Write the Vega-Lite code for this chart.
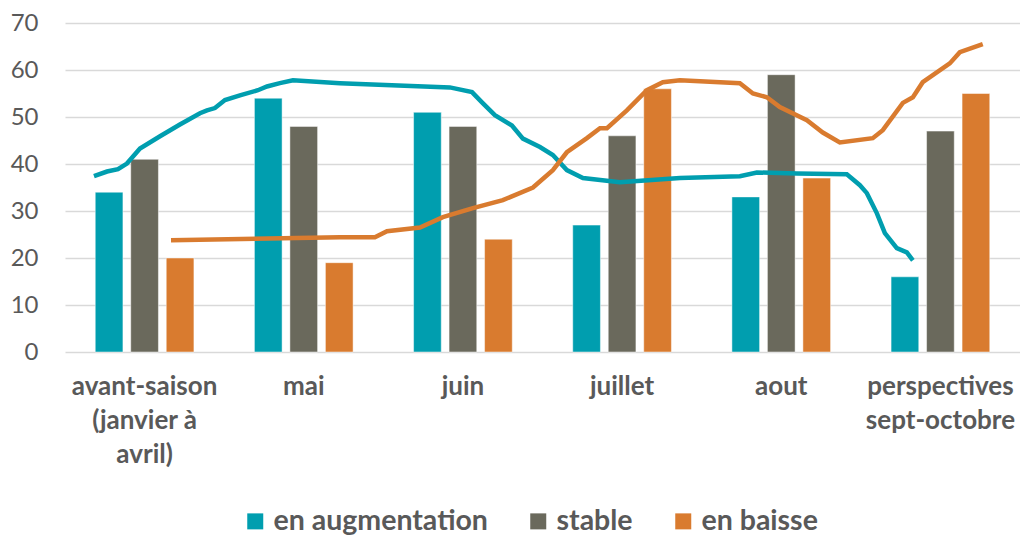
{
  "$schema": "https://vega.github.io/schema/vega-lite/v6.json",
  "width": 955,
  "height": 329,
  "autosize": "none",
  "padding": {"left": 65, "top": 23, "right": 0, "bottom": 184},
  "background": "white",
  "config": {
    "view": {"stroke": null},
    "font": "Lato",
    "axis": {"labelFont": "Lato", "labelColor": "#595959"}
  },
  "datasets": {
    "bars": [
      {"cat": "avant-saison (janvier à avril)", "series": "en augmentation", "value": 34},
      {"cat": "avant-saison (janvier à avril)", "series": "stable", "value": 41},
      {"cat": "avant-saison (janvier à avril)", "series": "en baisse", "value": 20},
      {"cat": "mai", "series": "en augmentation", "value": 54},
      {"cat": "mai", "series": "stable", "value": 48},
      {"cat": "mai", "series": "en baisse", "value": 19},
      {"cat": "juin", "series": "en augmentation", "value": 51},
      {"cat": "juin", "series": "stable", "value": 48},
      {"cat": "juin", "series": "en baisse", "value": 24},
      {"cat": "juillet", "series": "en augmentation", "value": 27},
      {"cat": "juillet", "series": "stable", "value": 46},
      {"cat": "juillet", "series": "en baisse", "value": 56},
      {"cat": "aout", "series": "en augmentation", "value": 33},
      {"cat": "aout", "series": "stable", "value": 59},
      {"cat": "aout", "series": "en baisse", "value": 37},
      {"cat": "perspectives sept-octobre", "series": "en augmentation", "value": 16},
      {"cat": "perspectives sept-octobre", "series": "stable", "value": 47},
      {"cat": "perspectives sept-octobre", "series": "en baisse", "value": 55}
    ],
    "teal": [
      {"u": 0.182, "y": 37.4}, {"u": 0.264, "y": 38.4}, {"u": 0.333, "y": 38.9}, {"u": 0.389, "y": 40.1},
      {"u": 0.471, "y": 43.3}, {"u": 0.597, "y": 45.9}, {"u": 0.722, "y": 48.4}, {"u": 0.848, "y": 50.8},
      {"u": 0.892, "y": 51.4}, {"u": 0.942, "y": 51.9}, {"u": 1.005, "y": 53.6}, {"u": 1.099, "y": 54.6},
      {"u": 1.212, "y": 55.7}, {"u": 1.269, "y": 56.5}, {"u": 1.35, "y": 57.2}, {"u": 1.432, "y": 57.8},
      {"u": 1.727, "y": 57.2}, {"u": 2.418, "y": 56.3}, {"u": 2.557, "y": 55.3}, {"u": 2.626, "y": 52.9},
      {"u": 2.701, "y": 50.4}, {"u": 2.808, "y": 48.2}, {"u": 2.877, "y": 45.4}, {"u": 2.984, "y": 43.6},
      {"u": 3.065, "y": 41.9}, {"u": 3.153, "y": 38.7}, {"u": 3.254, "y": 37.0}, {"u": 3.486, "y": 36.1},
      {"u": 3.863, "y": 37.0}, {"u": 4.24, "y": 37.4}, {"u": 4.347, "y": 38.2}, {"u": 4.598, "y": 38.0},
      {"u": 4.912, "y": 37.8}, {"u": 4.994, "y": 35.5}, {"u": 5.038, "y": 33.8}, {"u": 5.101, "y": 29.5},
      {"u": 5.151, "y": 25.3}, {"u": 5.226, "y": 22.1}, {"u": 5.289, "y": 21.2}, {"u": 5.327, "y": 19.5}
    ],
    "orange": [
      {"u": 0.666, "y": 23.8}, {"u": 1.727, "y": 24.4}, {"u": 1.947, "y": 24.4}, {"u": 2.023, "y": 25.7},
      {"u": 2.23, "y": 26.5}, {"u": 2.374, "y": 28.7}, {"u": 2.563, "y": 30.6}, {"u": 2.751, "y": 32.3},
      {"u": 2.94, "y": 35.0}, {"u": 3.065, "y": 38.7}, {"u": 3.153, "y": 42.5}, {"u": 3.279, "y": 45.5},
      {"u": 3.361, "y": 47.6}, {"u": 3.405, "y": 47.6}, {"u": 3.53, "y": 51.4}, {"u": 3.656, "y": 55.7},
      {"u": 3.756, "y": 57.4}, {"u": 3.863, "y": 57.8}, {"u": 4.24, "y": 57.2}, {"u": 4.322, "y": 55.0},
      {"u": 4.41, "y": 54.2}, {"u": 4.491, "y": 52.1}, {"u": 4.661, "y": 49.3}, {"u": 4.761, "y": 46.7},
      {"u": 4.868, "y": 44.6}, {"u": 5.075, "y": 45.5}, {"u": 5.138, "y": 47.2}, {"u": 5.264, "y": 53.0},
      {"u": 5.327, "y": 54.2}, {"u": 5.389, "y": 57.4}, {"u": 5.559, "y": 61.4}, {"u": 5.622, "y": 63.8},
      {"u": 5.766, "y": 65.5}
    ]
  },
  "layer": [
    {
      "data": {"name": "bars"},
      "mark": {"type": "bar", "stroke": "#ffffff", "strokeWidth": 0.8, "strokeOpacity": 0.6},
      "encoding": {
        "x": {
          "field": "cat", "type": "nominal",
          "sort": ["avant-saison (janvier à avril)", "mai", "juin", "juillet", "aout", "perspectives sept-octobre"],
          "scale": {"paddingInner": 0.38, "paddingOuter": 0.19},
          "axis": {
            "title": null, "domain": false, "ticks": false, "grid": false,
            "labelAngle": 0, "labelFontSize": 26, "labelFontWeight": "bold", "labelColor": "#595959",
            "labelBaseline": "top", "labelPadding": 21, "labelLineHeight": 34, "labelLimit": 400,
            "labelExpr": "datum.value == 'avant-saison (janvier à avril)' ? ['avant-saison', '(janvier à', 'avril)'] : datum.value == 'perspectives sept-octobre' ? ['perspectives', 'sept-octobre'] : datum.value"
          }
        },
        "xOffset": {
          "field": "series", "type": "nominal",
          "sort": ["en augmentation", "stable", "en baisse"],
          "scale": {"paddingInner": 0.22, "paddingOuter": 0}
        },
        "y": {
          "field": "value", "type": "quantitative",
          "scale": {"domain": [0, 70], "nice": false},
          "axis": {
            "title": null, "domain": false, "ticks": false, "values": [0, 10, 20, 30, 40, 50, 60, 70],
            "grid": true, "gridColor": "#D9D9D9", "gridWidth": 1.5,
            "labelFontSize": 24, "labelColor": "#595959", "labelPadding": 27
          }
        },
        "color": {
          "field": "series", "type": "nominal",
          "scale": {"domain": ["en augmentation", "stable", "en baisse"], "range": ["#009EAF", "#6A695C", "#D97B2F"]},
          "legend": {
            "title": null, "orient": "none", "direction": "horizontal",
            "legendX": 176, "legendY": 484,
            "symbolType": "square", "symbolSize": 256, "symbolStrokeWidth": 0, "symbolOpacity": 1,
            "labelFontSize": 28.5, "labelFontWeight": "bold", "labelColor": "#595959", "labelFont": "Lato",
            "labelOffset": 4, "columnPadding": 36, "labelLimit": 400
          }
        }
      }
    },
    {
      "data": {"name": "teal"},
      "mark": {"type": "line", "color": "#009EAF", "strokeWidth": 4.5},
      "encoding": {
        "x": {"field": "u", "type": "quantitative", "scale": {"domain": [0, 6], "nice": false, "zero": false}, "axis": null},
        "y": {"field": "y", "type": "quantitative"}
      }
    },
    {
      "data": {"name": "orange"},
      "mark": {"type": "line", "color": "#D97B2F", "strokeWidth": 4.5},
      "encoding": {
        "x": {"field": "u", "type": "quantitative", "scale": {"domain": [0, 6], "nice": false, "zero": false}, "axis": null},
        "y": {"field": "y", "type": "quantitative"}
      }
    }
  ],
  "resolve": {"scale": {"x": "independent"}}
}
